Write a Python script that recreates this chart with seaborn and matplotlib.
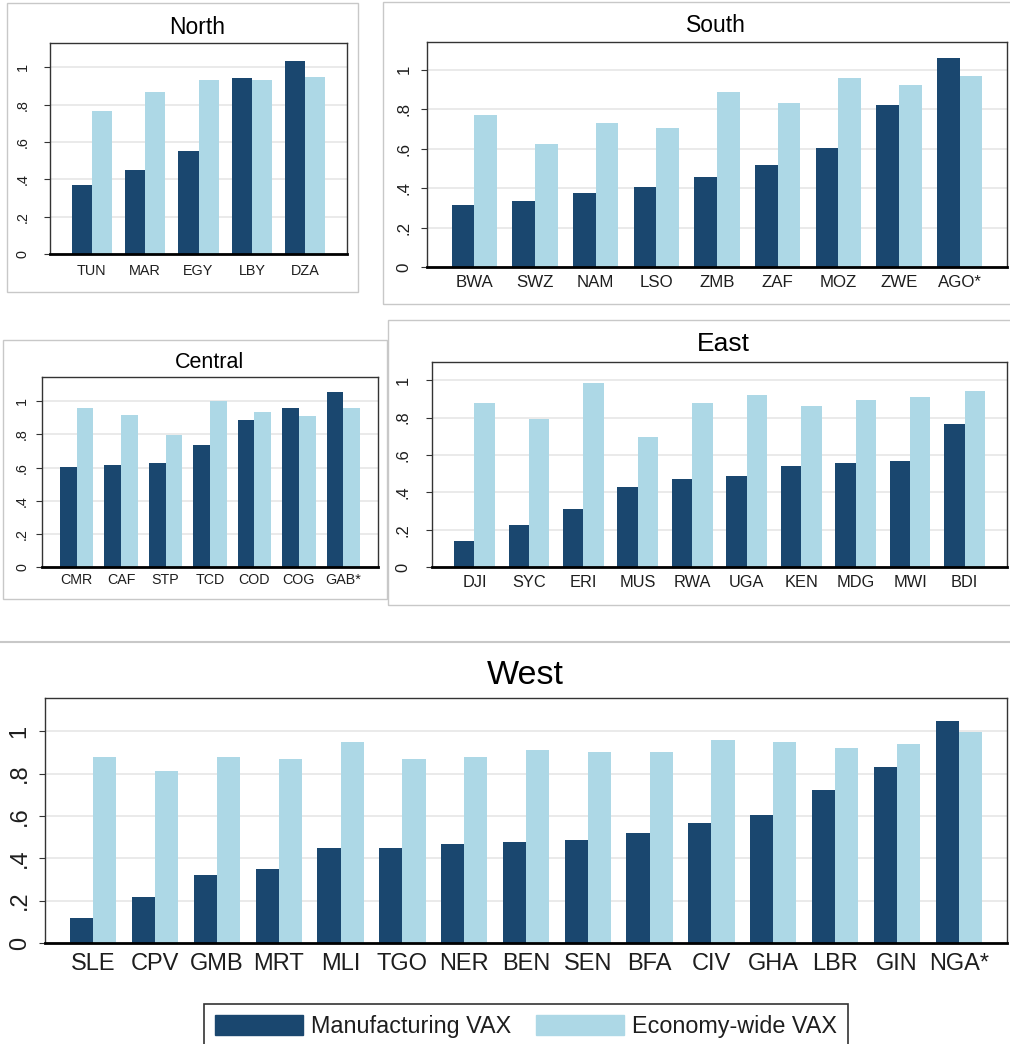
import numpy as np
import pandas as pd
import matplotlib
matplotlib.use("Agg")
import matplotlib.pyplot as plt
from matplotlib.patches import Patch, Rectangle
from matplotlib.lines import Line2D
import seaborn as sns

# ---- data: value-added-to-export ratios by country, grouped by region ----
MFG = "Manufacturing VAX"
ECO = "Economy-wide VAX"

north_countries = ["TUN", "MAR", "EGY", "LBY", "DZA"]
north_mfg = [0.370, 0.450, 0.552, 0.941, 1.034]
north_eco = [0.766, 0.870, 0.932, 0.932, 0.948]

south_countries = ["BWA", "SWZ", "NAM", "LSO", "ZMB", "ZAF", "MOZ", "ZWE", "AGO*"]
south_mfg = [0.315, 0.337, 0.376, 0.408, 0.454, 0.519, 0.605, 0.823, 1.060]
south_eco = [0.769, 0.626, 0.730, 0.706, 0.886, 0.830, 0.956, 0.925, 0.971]

central_countries = ["CMR", "CAF", "STP", "TCD", "COD", "COG", "GAB*"]
central_mfg = [0.602, 0.618, 0.628, 0.738, 0.885, 0.962, 1.056]
central_eco = [0.962, 0.920, 0.799, 1.004, 0.938, 0.911, 0.962]

east_countries = ["DJI", "SYC", "ERI", "MUS", "RWA", "UGA", "KEN", "MDG", "MWI", "BDI"]
east_mfg = [0.138, 0.224, 0.311, 0.431, 0.472, 0.490, 0.540, 0.558, 0.569, 0.765]
east_eco = [0.876, 0.792, 0.987, 0.697, 0.876, 0.919, 0.860, 0.892, 0.910, 0.944]

west_countries = ["SLE", "CPV", "GMB", "MRT", "MLI", "TGO", "NER", "BEN",
                  "SEN", "BFA", "CIV", "GHA", "LBR", "GIN", "NGA*"]
west_mfg = [0.118, 0.219, 0.320, 0.348, 0.447, 0.447, 0.466, 0.476,
            0.485, 0.521, 0.567, 0.603, 0.721, 0.831, 1.050]
west_eco = [0.877, 0.813, 0.877, 0.868, 0.948, 0.868, 0.877, 0.913,
            0.904, 0.904, 0.959, 0.948, 0.923, 0.940, 0.995]

ytick_values = [0, 0.2, 0.4, 0.6, 0.8, 1.0]
ytick_labels = ["0", ".2", ".4", ".6", ".8", "1"]

# ---- style ----
sns.set_style("white")
plt.rcParams["font.family"] = ["Liberation Sans", "DejaVu Sans"]

DARK = "#1a476f"
LIGHT = "#add8e6"
palette = {MFG: DARK, ECO: LIGHT}
TEXT = "#1e1e1e"
GRID = "#e4e4e4"
BOXC = "#c8c8c8"

W, H = 1010, 1044
fig = plt.figure(figsize=(W / 100, H / 100), dpi=100)


def fx(x):
    return x / W


def fy(y):
    return 1 - y / H


def panel_box(x0, y0, x1, y1):
    fig.add_artist(Rectangle((fx(x0), fy(y1)), fx(x1 - x0), (y1 - y0) / H,
                             transform=fig.transFigure, fill=False,
                             edgecolor=BOXC, linewidth=1.0))


def draw_panel(title, countries, mfg, eco, plot_px, ymax, title_xy,
               title_fs, tick_fs, xpad, ypad):
    x0, y0, x1, y1 = plot_px
    ax = fig.add_axes([fx(x0), fy(y1), (x1 - x0) / W, (y1 - y0) / H])
    n = len(countries)
    df = pd.DataFrame({
        "country": list(countries) * 2,
        "series": [MFG] * n + [ECO] * n,
        "value": list(mfg) + list(eco),
    })
    sns.barplot(data=df, x="country", y="value", hue="series",
                order=countries, hue_order=[MFG, ECO], palette=palette,
                width=0.75, saturation=1, linewidth=0, errorbar=None,
                legend=False, ax=ax)
    ax.set_xlim(-0.78, n - 1 + 0.78)
    ax.set_ylim(0, ymax)
    ax.set_yticks(ytick_values)
    ax.set_yticklabels(ytick_labels, rotation=90, va="center")
    ax.set_xlabel("")
    ax.set_ylabel("")
    ax.set_axisbelow(True)
    ax.yaxis.grid(True, color=GRID, linewidth=1.1)
    ax.xaxis.grid(False)
    ax.tick_params(axis="x", length=0, pad=xpad, labelsize=tick_fs,
                   labelcolor=TEXT)
    ax.tick_params(axis="y", left=True, length=4, width=0.8, color="#333333",
                   pad=ypad, labelsize=tick_fs, labelcolor=TEXT)
    for side in ("left", "top", "right"):
        ax.spines[side].set_color("#333333")
        ax.spines[side].set_linewidth(1.0)
    ax.spines["bottom"].set_color("black")
    ax.spines["bottom"].set_linewidth(2.0)
    fig.text(fx(title_xy[0]), fy(title_xy[1]), title, ha="center",
             va="center", fontsize=title_fs, color="black")
    return ax


# outer frames of the four regional panels and the divider above West
panel_box(7, 3, 358, 292)
panel_box(383, 2, 1012, 304)
panel_box(3, 340, 387, 599)
panel_box(388, 320, 1012, 605)
fig.add_artist(Line2D([0, 1], [fy(642), fy(642)], transform=fig.transFigure,
                      color=BOXC, linewidth=1.5))

draw_panel("North", north_countries, north_mfg, north_eco,
           (50, 43, 347, 254), 1.13, (197, 27), 16.5, 10.4, 7.5, 10.5)
draw_panel("South", south_countries, south_mfg, south_eco,
           (427, 42, 1007, 267), 1.141, (716, 25), 16.5, 12.2, 5.5, 7.2)
draw_panel("Central", central_countries, central_mfg, central_eco,
           (42, 377, 378, 567), 1.147, (209, 362), 15.5, 10.3, 4.6, 5.3)
draw_panel("East", east_countries, east_mfg, east_eco,
           (432, 362, 1007, 567), 1.098, (723, 344), 19, 11.8, 5.6, 11.6)
draw_panel("West", west_countries, west_mfg, west_eco,
           (45, 698, 1007, 943), 1.157, (525, 676), 24.5, 17, 7.4, 6.3)

handles = [Patch(facecolor=DARK, edgecolor=DARK), Patch(facecolor=LIGHT, edgecolor=LIGHT)]
leg = fig.legend(handles, [MFG, ECO], loc="upper center",
                 bbox_to_anchor=(fx(526), fy(1004)), ncol=2, fontsize=16.8,
                 frameon=True, fancybox=False, shadow=False,
                 handlelength=3.77, handleheight=0.96, handletextpad=0.33,
                 columnspacing=1.1, borderpad=0.45, borderaxespad=0)
leg.get_frame().set_edgecolor("black")
leg.get_frame().set_linewidth(1.2)
for t in leg.get_texts():
    t.set_color(TEXT)

fig.savefig("out.png", dpi=100)
